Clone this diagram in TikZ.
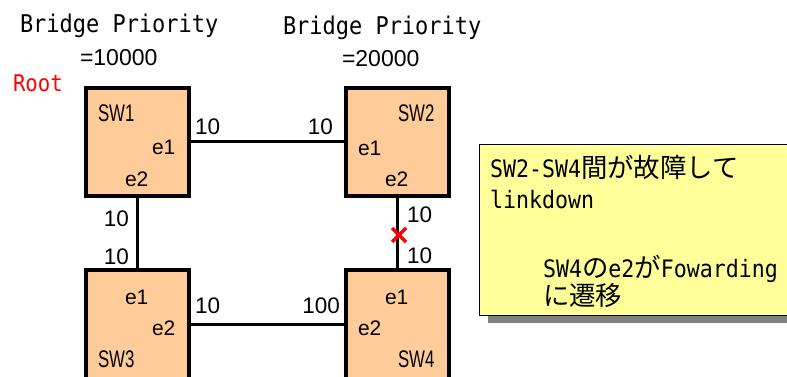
\documentclass[tikz,border=0pt]{standalone}
\usepackage{fontspec}
\setmainfont{Liberation Sans}
\newfontfamily\monof[FakeStretch=0.9]{DejaVu Sans Mono}
\newfontfamily\narrowf[FakeStretch=0.7]{Liberation Sans}
\newfontfamily\jpf[Scale=1.1]{Noto Sans CJK JP}
\usetikzlibrary{shadows}
\definecolor{swfill}{HTML}{FFCC99}
\definecolor{notefill}{HTML}{FFFF99}
\definecolor{shadowgray}{HTML}{808080}
\definecolor{rootred}{HTML}{FF0000}
\begin{document}
\begin{tikzpicture}[x=1pt,y=-1pt,
  switch/.style={draw=black,line width=4pt,fill=swfill,minimum width=103pt,
    minimum height=108pt,inner sep=0pt,outer sep=0pt},
  link/.style={line width=3pt,draw=black},
  txt/.style={inner sep=0pt,outer sep=0pt,anchor=base west},
  rtxt/.style={inner sep=0pt,outer sep=0pt,anchor=base east},
  cost/.style={font=\fontsize{22.5}{26}\selectfont},
  port/.style={font=\fontsize{21}{25}\selectfont},
  swname/.style={font=\narrowf\fontsize{24}{28}\selectfont},
  title/.style={font=\monof\fontsize{24.4}{28}\selectfont},
  prio/.style={font=\fontsize{23}{27}\selectfont},
  notetext/.style={font=\monof\fontsize{24}{28}\selectfont},
  notebox/.style={draw=black,line width=1pt,fill=notefill,inner sep=0pt,
    minimum width=330pt,minimum height=171pt,
    drop shadow={shadow xshift=8pt,shadow yshift=-7pt,fill=shadowgray,opacity=1}}
]
\useasboundingbox (0,0) rectangle (787,377);
\clip (0,0) rectangle (787,377);

% switches
\node[switch] (sw1) at (137.5,142) {};
\node[switch] (sw2) at (397.6,142) {};
\node[switch,minimum height=116pt] (sw3) at (137.5,328) {};
\node[switch,minimum height=116pt] (sw4) at (397.6,328) {};

% links
\draw[link] (sw1.east) -- (sw2.west);
\draw[link] (sw1.south) -- (sw3.north);
\draw[link] (sw2.south) -- (sw4.north);
\draw[link] ([yshift=4pt]sw3.east) -- ([yshift=4pt]sw4.west);

% failure mark on the SW2-SW4 link
\coordinate (cut) at (399,235);
\draw[draw=rootred,line width=3.5pt] ([shift={(-7pt,-7pt)}]cut) -- ([shift={(7pt,7pt)}]cut);
\draw[draw=rootred,line width=3.5pt] ([shift={(-7pt,7pt)}]cut) -- ([shift={(7pt,-7pt)}]cut);

% link costs
\node[cost,txt]  (c12a) at (195,135) {10};
\node[cost,rtxt] (c12b) at (333,135) {10};
\node[cost,rtxt] (c13a) at (129,226) {10};
\node[cost,rtxt] (c13b) at (129,264) {10};
\node[cost,txt]  (c24a) at (407,222) {10};
\node[cost,txt]  (c24b) at (407,263) {10};
\node[cost,txt]  (c34a) at (195,313) {10};
\node[cost,rtxt] (c34b) at (340,313) {100};

% switch names and ports
\node[swname,txt] (n1) at (98,122) {SW1};
\node[port,txt] (p1a) at (152,154) {e1};
\node[port,txt] (p1b) at (125,186) {e2};

\node[swname,txt] (n2) at (398,122) {SW2};
\node[port,txt] (p2a) at (358,155) {e1};
\node[port,txt] (p2b) at (385,186) {e2};

\node[port,txt] (p3a) at (125,304) {e1};
\node[port,txt] (p3b) at (152,335) {e2};
\node[swname,txt] (n3) at (98,367) {SW3};

\node[port,txt] (p4a) at (385,304) {e1};
\node[port,txt] (p4b) at (358,335) {e2};
\node[swname,txt] (n4) at (398,367) {SW4};

% bridge priorities
\node[title,txt] (bp1) at (20,33) {Bridge Priority};
\node[prio,txt] (v1) at (80,66) {=10000};
\node[title,txt] (bp2) at (283,35) {Bridge Priority};
\node[prio,txt] (v2) at (342,67) {=20000};
\node[title,txt,text=rootred,font=\monof\fontsize{23}{27}\selectfont] (root) at (13,92) {Root};

% note
\node[notebox,anchor=north west] (note) at (479,144) {};
\node[notetext,txt] (l1) at (490,177) {SW2-SW4{\jpf 間が故障して}};
\node[notetext,txt] (l2) at (490,208) {linkdown};
\node[notetext,txt] (l3) at (543,277) {SW4{\jpf の}e2{\jpf が}Fowarding};
\node[notetext,txt] (l4) at (543,305) {{\jpf に遷移}};
\end{tikzpicture}
\end{document}
